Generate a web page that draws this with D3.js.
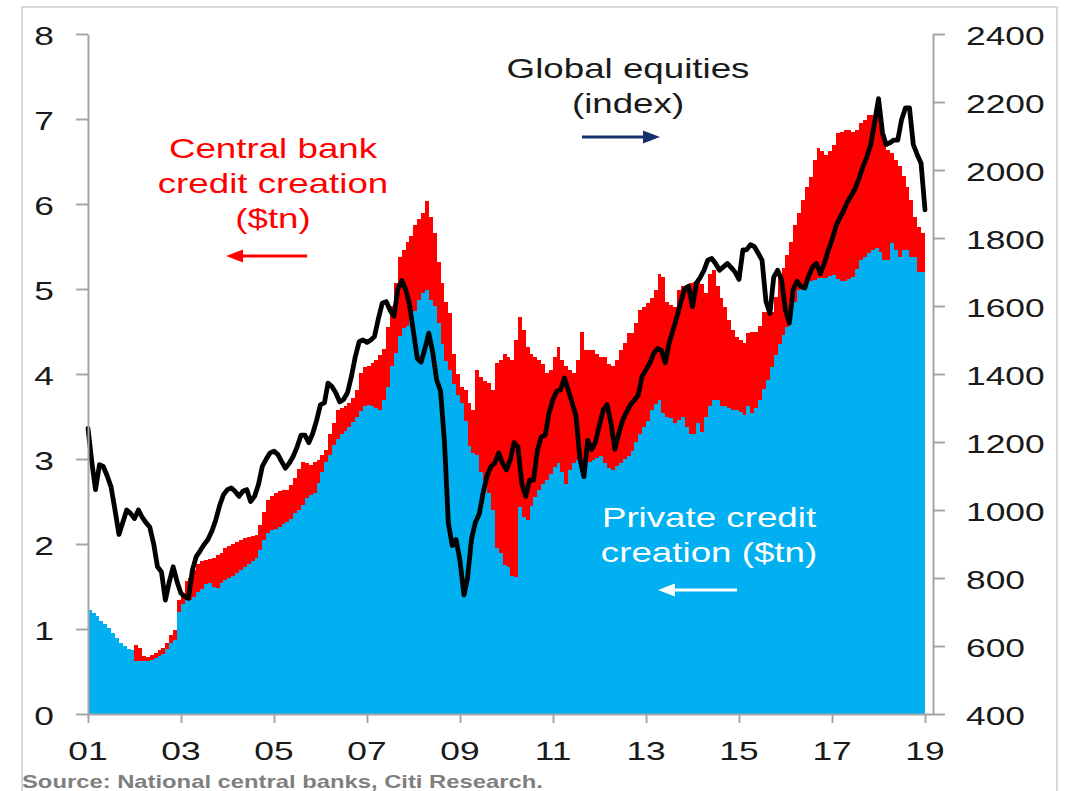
<!DOCTYPE html>
<html>
<head>
<meta charset="utf-8">
<script src="https://cdn.jsdelivr.net/npm/d3@7"></script>
<style>
  html, body { margin: 0; padding: 0; background: #fff; }
  svg { display: block; font-family: "Liberation Sans", Arial, Helvetica, sans-serif; }
</style>
</head>
<body>
<svg id="chart" width="1069" height="791"></svg>
<script>
// Monthly series, Jan 2001 – Dec 2018 ($tn)
const privateCredit = [
  1.22, 1.19, 1.15, 1.10, 1.06, 1.01, 0.95, 0.89, 0.84, 0.80, 0.77, 0.75, // 2001
  0.62, 0.62, 0.62, 0.62, 0.64, 0.66, 0.68, 0.71, 0.76, 0.83, 0.87, 1.20, // 2002
  1.30, 1.34, 1.34, 1.38, 1.43, 1.47, 1.53, 1.54, 1.50, 1.48, 1.54, 1.58, // 2003
  1.60, 1.62, 1.66, 1.70, 1.73, 1.76, 1.80, 1.83, 1.93, 2.05, 2.13, 2.16, // 2004
  2.18, 2.20, 2.23, 2.26, 2.30, 2.36, 2.40, 2.46, 2.54, 2.58, 2.60, 2.72, // 2005
  2.85, 2.97, 3.05, 3.17, 3.24, 3.30, 3.33, 3.38, 3.44, 3.50, 3.56, 3.62, // 2006
  3.64, 3.62, 3.60, 3.58, 3.70, 3.85, 4.09, 4.25, 4.45, 4.54, 4.56, 4.66, // 2007
  4.74, 4.87, 4.95, 4.99, 4.87, 4.80, 4.60, 4.35, 4.15, 4.05, 3.88, 3.75, // 2008
  3.66, 3.45, 3.15, 3.07, 3.05, 2.85, 2.75, 2.60, 2.40, 1.95, 1.89, 1.75, // 2009
  1.73, 1.62, 1.61, 2.44, 2.32, 2.28, 2.45, 2.55, 2.64, 2.71, 2.75, 2.82, // 2010
  2.91, 2.95, 2.85, 2.71, 2.87, 2.95, 2.99, 2.97, 2.95, 2.96, 2.99, 3.01, // 2011
  3.03, 2.95, 2.90, 2.87, 2.92, 2.95, 3.00, 3.03, 3.10, 3.20, 3.30, 3.38, // 2012
  3.45, 3.58, 3.65, 3.69, 3.54, 3.50, 3.48, 3.42, 3.46, 3.50, 3.38, 3.30, // 2013
  3.30, 3.42, 3.32, 3.50, 3.62, 3.69, 3.69, 3.62, 3.62, 3.60, 3.58, 3.58, // 2014
  3.55, 3.52, 3.62, 3.54, 3.60, 3.70, 3.82, 3.93, 4.08, 4.22, 4.35, 4.46, // 2015
  4.55, 4.72, 4.85, 4.99, 5.05, 5.08, 5.10, 5.11, 5.13, 5.13, 5.13, 5.15, // 2016
  5.16, 5.12, 5.10, 5.09, 5.12, 5.14, 5.24, 5.34, 5.38, 5.42, 5.46, 5.48, // 2017
  5.44, 5.34, 5.34, 5.54, 5.46, 5.38, 5.46, 5.46, 5.38, 5.38, 5.20, 5.20  // 2018
];

const centralBankCredit = [
  0.00, 0.00, 0.00, 0.00, 0.00, 0.00, 0.00, 0.00, 0.00, 0.00, 0.00, 0.00, // 2001
  0.19, 0.16, 0.06, 0.05, 0.05, 0.06, 0.07, 0.07, 0.08, 0.10, 0.12, 0.14, // 2002
  0.12, 0.22, 0.26, 0.32, 0.34, 0.33, 0.28, 0.28, 0.34, 0.39, 0.36, 0.37, // 2003
  0.38, 0.38, 0.36, 0.35, 0.34, 0.32, 0.30, 0.28, 0.29, 0.33, 0.39, 0.40, // 2004
  0.42, 0.42, 0.40, 0.38, 0.40, 0.42, 0.48, 0.51, 0.41, 0.35, 0.36, 0.27, // 2005
  0.20, 0.14, 0.25, 0.25, 0.34, 0.30, 0.29, 0.28, 0.28, 0.31, 0.45, 0.46, // 2006
  0.46, 0.51, 0.57, 0.64, 0.60, 0.70, 0.71, 0.82, 0.93, 0.92, 0.99, 0.96, // 2007
  1.01, 0.95, 0.94, 1.04, 0.98, 0.86, 0.72, 0.72, 0.70, 0.67, 0.36, 0.25, // 2008
  0.19, 0.36, 0.51, 0.51, 1.00, 1.12, 1.17, 1.29, 1.41, 2.18, 2.27, 2.49, // 2009
  2.47, 2.54, 2.79, 2.23, 2.20, 2.04, 1.79, 1.65, 1.52, 1.41, 1.26, 1.23, // 2010
  1.29, 1.37, 1.31, 1.39, 1.18, 1.06, 1.17, 1.53, 1.33, 1.32, 1.29, 1.23, // 2011
  1.17, 1.25, 1.22, 1.22, 1.24, 1.33, 1.36, 1.45, 1.38, 1.40, 1.45, 1.41, // 2012
  1.38, 1.32, 1.34, 1.49, 1.60, 1.35, 1.33, 1.37, 1.53, 1.53, 1.67, 1.77, // 2013
  1.78, 1.67, 1.74, 1.45, 1.56, 1.53, 1.34, 1.28, 1.17, 1.04, 0.94, 0.86, // 2014
  0.85, 0.84, 0.86, 0.96, 0.90, 0.86, 0.91, 0.80, 0.65, 0.69, 0.79, 0.79, // 2015
  0.85, 0.83, 0.90, 0.91, 1.00, 1.12, 1.22, 1.41, 1.53, 1.49, 1.45, 1.47, // 2016
  1.53, 1.71, 1.75, 1.78, 1.75, 1.71, 1.63, 1.61, 1.61, 1.63, 1.59, 1.57, // 2017
  1.51, 1.41, 1.30, 1.06, 1.06, 1.07, 0.87, 0.74, 0.67, 0.47, 0.53, 0.46  // 2018
];

// Global equities index, monthly Jan 2001 – Jan 2019
const globalEquities = [
  1240, 1138, 1060, 1133, 1128, 1100, 1068, 1000,  928,  963, 1000,  990, // 2001
   975, 1000,  980,  963,  950,  900,  833,  818,  735,  788,  833,  790, // 2002
   755,  745,  740,  823,  863,  880,  898,  913,  938,  970, 1013, 1045, // 2003
  1060, 1065, 1055, 1040, 1055, 1060, 1025, 1040, 1075, 1128, 1150, 1168, // 2004
  1173, 1163, 1143, 1123, 1138, 1158, 1185, 1220, 1220, 1198, 1225, 1263, // 2005
  1310, 1315, 1373, 1363, 1345, 1318, 1325, 1345, 1393, 1450, 1495, 1500, // 2006
  1493, 1500, 1510, 1563, 1608, 1613, 1588, 1570, 1650, 1675, 1650, 1605, // 2007
  1525, 1445, 1435, 1475, 1520, 1463, 1383, 1350, 1200,  963,  895,  913, // 2008
   850,  750,  800,  913,  963,  988, 1050, 1100, 1128, 1138, 1168, 1138, // 2009
  1118, 1150, 1198, 1185, 1078, 1040, 1088, 1088, 1175, 1215, 1220, 1285, // 2010
  1325, 1350, 1353, 1388, 1353, 1315, 1275, 1150, 1098, 1205, 1178, 1200, // 2011
  1250, 1295, 1310, 1255, 1178, 1225, 1263, 1288, 1310, 1323, 1338, 1393, // 2012
  1413, 1433, 1460, 1475, 1470, 1433, 1490, 1530, 1568, 1613, 1650, 1658, // 2013
  1598, 1668, 1683, 1705, 1735, 1740, 1725, 1705, 1715, 1725, 1713, 1700, // 2014
  1678, 1765, 1765, 1780, 1775, 1755, 1735, 1613, 1578, 1685, 1705, 1678, // 2015
  1588, 1550, 1648, 1673, 1658, 1653, 1688, 1715, 1725, 1695, 1725, 1763, // 2016
  1795, 1835, 1858, 1880, 1905, 1925, 1945, 1975, 2010, 2038, 2075, 2140, // 2017
  2210, 2110, 2075, 2080, 2088, 2088, 2148, 2183, 2183, 2075, 2045, 2020, // 2018
  1883                                                                    // 2019
];

const leftTicks = [0, 1, 2, 3, 4, 5, 6, 7, 8];
const rightTicks = [400, 600, 800, 1000, 1200, 1400, 1600, 1800, 2000, 2200, 2400];
const yearTicks = [2001, 2003, 2005, 2007, 2009, 2011, 2013, 2015, 2017, 2019];

// ---- layout ----
const plot = { left: 88, right: 925, top: 34, bottom: 714, rightAxis: 933 };
const SX = 1.36;             // horizontal stretch applied to all lettering
const axisColor = "#a6a6a6";
const blue = "#00b0f0", red = "#ff0000";

const svg = d3.select("#chart");

const months = d3.timeMonth.range(new Date(2001, 0, 1), new Date(2019, 0, 1));
const eqMonths = d3.timeMonth.range(new Date(2001, 0, 1), new Date(2019, 1, 1));

const x = d3.scaleTime()
  .domain([new Date(2001, 0, 1), new Date(2019, 0, 1)])
  .range([plot.left, plot.right]);
const yL = d3.scaleLinear().domain([0, 8]).range([plot.bottom, plot.top]);
const yR = d3.scaleLinear().domain([400, 2400]).range([plot.bottom, plot.top]);

const credit = months.map((d, i) => ({
  date: d,
  priv: privateCredit[i],
  total: privateCredit[i] + centralBankCredit[i]
}));
// close the last monthly step at the end of the range
credit.push(Object.assign({}, credit[credit.length - 1], { date: new Date(2019, 0, 1) }));

const equities = eqMonths.map((d, i) => ({ date: d, value: globalEquities[i] }));

// outer frame
svg.append("rect")
  .attr("x", 22).attr("y", 7).attr("width", 1035).attr("height", 800)
  .attr("fill", "none").attr("stroke", "#d9d9d9").attr("stroke-width", 2);

// central bank credit, stacked on private credit
svg.append("path")
  .datum(credit)
  .attr("fill", red)
  .attr("shape-rendering", "crispEdges")
  .attr("d", d3.area().curve(d3.curveStepAfter)
    .x(d => x(d.date)).y0(yL(0)).y1(d => yL(d.total)));

// private credit
svg.append("path")
  .datum(credit)
  .attr("fill", blue)
  .attr("shape-rendering", "crispEdges")
  .attr("d", d3.area().curve(d3.curveStepAfter)
    .x(d => x(d.date)).y0(yL(0)).y1(d => yL(d.priv)));

// global equities line (right axis)
svg.append("path")
  .datum(equities)
  .attr("fill", "none")
  .attr("stroke", "#000")
  .attr("stroke-width", 4.8)
  .attr("stroke-linejoin", "round")
  .attr("stroke-linecap", "round")
  .attr("d", d3.line().x(d => x(d.date)).y(d => yR(d.value)));

// ---- axes ----
function styleAxis(g) {
  g.selectAll("path, line").attr("stroke", axisColor).attr("stroke-width", 2);
  g.selectAll("text").remove();
}

svg.append("g")
  .attr("transform", `translate(${plot.left},0)`)
  .call(d3.axisLeft(yL).tickValues(leftTicks).tickSize(12).tickSizeOuter(0).tickFormat(""))
  .call(styleAxis);

svg.append("g")
  .attr("transform", `translate(${plot.rightAxis},0)`)
  .call(d3.axisRight(yR).tickValues(rightTicks).tickSize(12).tickSizeOuter(0).tickFormat(""))
  .call(styleAxis);

const xAxis = svg.append("g")
  .attr("transform", `translate(0,${plot.bottom})`)
  .call(d3.axisBottom(x).tickValues(yearTicks.map(y => new Date(y, 0, 1)))
    .tickSize(9).tickSizeOuter(0).tickFormat(""))
  .call(styleAxis);
xAxis.select(".domain").remove();
svg.append("line")
  .attr("x1", plot.left).attr("x2", plot.rightAxis)
  .attr("y1", plot.bottom + 0.5).attr("y2", plot.bottom + 0.5)
  .attr("stroke", axisColor).attr("stroke-width", 2);

// ---- lettering ----
function label(px, py, str, opt) {
  opt = opt || {};
  return svg.append("text")
    .attr("transform", `translate(${px},${py}) scale(${SX},1)`)
    .attr("text-anchor", opt.anchor || "middle")
    .attr("font-size", opt.size || 26)
    .attr("font-weight", opt.weight || "normal")
    .attr("fill", opt.fill || "#1a1a1a")
    .text(str);
}

leftTicks.forEach(v => label(54, yL(v) + 11, d3.format("d")(v), { anchor: "end" }));
rightTicks.forEach(v => label(966, yR(v) + 11, d3.format("d")(v), { anchor: "start" }));
yearTicks.forEach(yr => label(x(new Date(yr, 0, 1)), 760, d3.timeFormat("%y")(new Date(yr, 0, 1))));

// series annotations
label(273, 158, "Central bank", { fill: red, size: 27 });
label(273, 193, "credit creation", { fill: red, size: 27 });
label(273, 228, "($tn)", { fill: red, size: 27 });

label(628, 78, "Global equities", { size: 27 });
label(628, 113, "(index)", { size: 27 });

label(709, 527, "Private credit", { fill: "#fff", size: 27 });
label(709, 562, "creation ($tn)", { fill: "#fff", size: 27 });

function arrow(x0, x1, yy, color) {
  const dir = Math.sign(x1 - x0);
  const headLen = 17, headHalf = 6.5;
  svg.append("line")
    .attr("x1", x0).attr("x2", x1 - dir * (headLen - 2))
    .attr("y1", yy).attr("y2", yy)
    .attr("stroke", color).attr("stroke-width", 3);
  svg.append("path")
    .attr("d", `M${x1},${yy} L${x1 - dir * headLen},${yy - headHalf} L${x1 - dir * headLen},${yy + headHalf} Z`)
    .attr("fill", color);
}
arrow(307, 226, 256, red);
arrow(582, 660, 137, "#13306b");
arrow(737, 658, 590, "#fff");

label(22, 788, "Source: National central banks, Citi Research.",
  { anchor: "start", size: 17.5, weight: "bold", fill: "#7f7f7f" });
</script>
</body>
</html>
